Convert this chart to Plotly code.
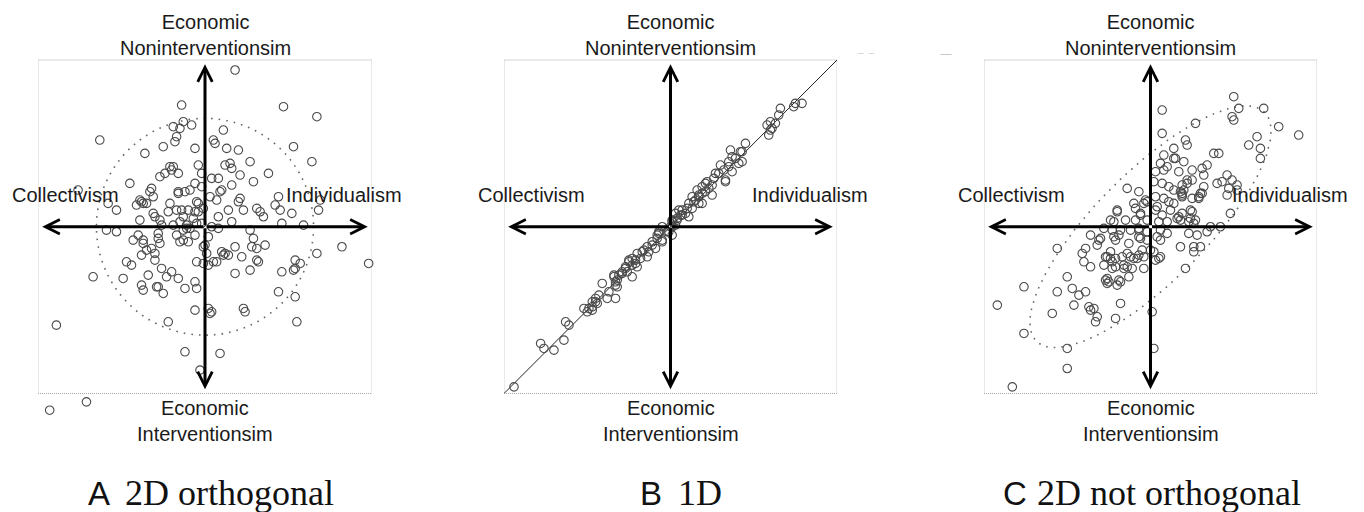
import math
import plotly.graph_objects as go

# ---------------- data (scores, box spans -100..100 on both axes) ----------------
a_x = [18, -14, 47, 67, -13, -8, -19, -15, 11, -63, 5, 6, -17, -18, -25, -6, 13, 20, 53, -36,
       27, 64, 12, 15, 16, -4, -21, -19, -20, -24, -16, -27, -2, 21, 38, 4, 8, -45, -6, 16,
       29, -76, -32, -33, -9, -12, -16, -16, -2, 10, 9, 44, 3, -31, -39, -41, -37, -35, -38, -58,
       -5, -4, 7, 21, 20, -21, 69, -17, -14, -22, -53, -10, -1, -6, -4, 14, 23, 31, 33, 35,
       42, 45, 52, 68, -31, -30, -39, -27, -13, -7, -15, 8, 16, -19, -11, -26, -5, -2, 46, 59,
       4, -59, -53, 8, -9, -13, -11, -28, -40, -17, 27, -43, -37, -37, -28, -27, -13, -15, -10, 2,
       0, -1, 29, 36, 28, 31, 18, -35, -32, 10, 12, 14, 11, 67, 82, 1, -38, -30, -30, 22,
       31, 32, -47, -44, -5, -1, 2, 5, 7, 54, 57, 54, 53, 98, -26, -20, 18, 27, 46, -67,
       -34, -49, -23, -16, -6, -38, -37, -29, -28, -25, -12, -5, 44, 54, -89, -6, 2, 3, 4, 23,
       24, -22, 55, -12, 9, -3, -71, -93, -6]
a_y = [94, 73, 72, 66, 63, 61, 60, 59, 58, 52, 52, 50, 54, 51, 48, 47, 47, 46, 48, 44,
       39, 39, 37, 38, 35, 37, 36, 36, 34, 32, 32, 30, 32, 31, 32, 29, 29, 26, 26, 25,
       27, 22, 23, 21, 22, 21, 21, 20, 24, 22, 21, 18, 18, 18, 16, 13, 14, 14, 15, 14,
       15, 14, 16, 17, 15, 14, 16, 10, 10, 9, 10, 10, 11, 9, 9, 10, 10, 11, 9, 6,
       13, 10, 8, 10, 8, 6, 4, 4, 6, 5, 3, 6, 3, 1, 1, 1, 2, 2, 2, 1,
       0, -2, -3, -1, -1, -2, -1, -4, -5, -5, -2, -8, -8, -10, -7, -10, -8, -9, -9, -6,
       -11, -12, -7, -11, -12, -13, -12, -14, -13, -15, -16, -17, -17, -16, -12, -16, -17, -16, -20, -18,
       -20, -21, -21, -23, -21, -22, -23, -21, -21, -20, -22, -25, -26, -22, -25, -27, -28, -26, -27, -30,
       -29, -31, -30, -31, -33, -35, -38, -36, -36, -40, -37, -37, -39, -42, -59, -50, -49, -52, -51, -49,
       -51, -57, -57, -75, -76, -86, -105, -110, -5]

b_x = [79, 75, 74, 66, 65, 63, 60, 61, 59, 60, 58, 45, 42, 43, 36, 37, 39, 43, 41, 35,
       30, 35, 37, 32, 29, 27, 33, 33, 26, 25, 21, 22, 23, 19, 21, 16, 17, 19, 25, 17,
       13, 14, 15, 17, 11, 19, 13, 10, 9, 7, 5, 6, 3, 7, 4, 4, 1, 11, 1, 3,
       1, 0, -1, -5, 1, -2, -7, -7, -8, -8, -5, -5, -11, -11, -9, -14, -13, -17, -16, -14,
       -18, -20, -21, -23, -25, -23, -20, -21, -25, -27, -27, -26, -29, -29, -31, -34, -34, -23, -33, -33,
       -32, -32, -41, -37, -43, -38, -33, -45, -45, -47, -47, -44, -47, -52, -50, -49, -63, -61, -64, -78,
       -76, -70, -94]
b_y = [74, 74, 72, 71, 67, 62, 63, 59, 55, 58, 61, 50, 45, 45, 46, 42, 41, 39, 38, 39,
       37, 36, 33, 34, 32, 32, 28, 27, 29, 25, 26, 27, 23, 24, 21, 22, 18, 20, 19, 19,
       18, 15, 16, 14, 14, 14, 11, 11, 8, 10, 10, 7, 8, 7, 5, 4, 3, 6, 4, 1,
       0, 0, -3, 0, -5, -3, -3, -4, -5, -7, -8, -9, -9, -11, -13, -12, -15, -15, -14, -18,
       -19, -16, -20, -19, -20, -23, -24, -22, -21, -24, -25, -27, -28, -27, -29, -29, -30, -30, -35, -33,
       -32, -36, -34, -39, -41, -43, -43, -45, -43, -48, -45, -46, -50, -49, -51, -49, -57, -59, -68, -70,
       -73, -74, -96]

c_x = [50, 7, 53, 68, 49, 50, 27, 77, 89, 7, 21, 22, 64, 59, 66, 66, 14, 38, 41, 8,
       14, 15, 20, 34, 6, 10, 3, 8, 17, 25, 31, 32, 46, 49, 2, 7, 11, 14, 19, 22,
       20, 19, 19, 18, 32, 31, 29, 40, 43, 47, 52, 46, -14, -7, 3, 8, 11, 14, 25, -2,
       -4, -20, -20, -10, -9, -6, -6, 4, 3, 12, 19, 25, 48, -24, -22, -15, -9, -2, 5, 10,
       16, 18, 23, 26, 36, 42, -28, -23, -18, -12, -7, -2, 6, 10, 23, 28, 34, -36, -30, -31,
       -22, -21, -13, -7, 4, 6, 18, 26, 30, 26, -56, -39, -41, -24, -26, -27, -14, -12, -10, -5,
       -4, 5, 3, -40, -36, -23, -28, -21, -23, -16, -14, -11, -16, -4, 21, -13, -50, -27, -26, -25,
       -20, -19, -18, -76, -56, -47, -39, -43, -92, -46, -37, -34, -36, -18, 1, -59, -32, -33, -21, -76,
       -50, 2, -50, -83, -32, -6, -2, 0, 2, 6, -8, -7, -17, -24, -21, -26, -19, -7, 24, 17,
       27, 24, 52, 30, 29, 25, 22, 19, -3, 7]
c_y = [78, 70, 71, 71, 66, 64, 62, 60, 55, 56, 52, 49, 54, 49, 47, 41, 47, 44, 44, 43,
       41, 41, 39, 37, 38, 36, 33, 34, 33, 34, 35, 31, 31, 28, 27, 26, 24, 22, 25, 26,
       22, 20, 18, 21, 24, 20, 18, 26, 27, 23, 22, 19, 23, 21, 18, 17, 15, 14, 17, 15,
       14, 10, 9, 14, 11, 8, 7, 12, 10, 10, 8, 9, 8, 4, 3, 4, 4, 4, 3, 3,
       5, 4, 3, 2, 0, 0, -1, -2, -2, -2, -2, -3, -2, -4, -4, -5, -3, -5, -7, -8,
       -6, -8, -10, -6, -6, -8, -12, -12, -12, -15, -13, -13, -16, -15, -18, -18, -16, -18, -19, -14,
       -18, -19, -20, -21, -24, -21, -23, -24, -25, -23, -24, -25, -25, -25, -25, -30, -30, -32, -31, -33,
       -35, -32, -33, -36, -39, -37, -39, -41, -47, -47, -48, -49, -50, -46, -51, -52, -54, -57, -55, -64,
       -73, -73, -85, -96, -11, -7, -8, -14, -15, -18, -19, -17, -18, -19, -19, -34, -5, -1, 10, 6,
       4, 5, 25, 20, 17, 28, 28, 19, 16, 7]

# axis labels
top_label = "Economic<br>Noninterventionsim"
bottom_label = "Economic<br>Interventionsim"
left_label = "Collectivism"
right_label = "Individualism"
captions = [("A", "2D orthogonal"), ("B", "1D"), ("C", "2D not orthogonal")]

# reference guides
circle_a_radius = 65                          # dotted circle, panel A
ellipse_c = dict(a=97, b=33, angle_deg=45)    # dotted ellipse, panel C
diag_b = dict(x=[-100, 100], y=[-100, 100])   # fitted line, panel B
arrow_len = 97.5

# ---------------- layout geometry ----------------
W, H = 1364, 512
box_px = [(38, 372), (504, 837), (984, 1317)]
box_y_px = (60, 393.5)
cap_px = [(112, 123), (664, 676), (1029, 1035)]
cap_y_px = 493
top_lab_px = 35
bot_lab_px = 421

# y axis spans the whole figure height; the box (-100..100) sits at box_y_px
unit = (box_y_px[1] - box_y_px[0]) / 200.0
y_center_px = (box_y_px[0] + box_y_px[1]) / 2
y_range = [-(H - y_center_px) / unit, y_center_px / unit]

fig = go.Figure()
xrefs = ["x", "x2", "x3"]
series = [(a_x, a_y), (b_x, b_y), (c_x, c_y)]

n = 180
th = math.radians(ellipse_c["angle_deg"])
ell_x, ell_y = [], []
for i in range(n + 1):
    t = 2 * math.pi * i / n
    u = ellipse_c["a"] * math.cos(t)
    v = ellipse_c["b"] * math.sin(t)
    ell_x.append(u * math.cos(th) - v * math.sin(th))
    ell_y.append(u * math.sin(th) + v * math.cos(th))

ann = []
shapes = []
for k, xr in enumerate(xrefs):
    xs, ys = series[k]
    cx_paper = (box_px[k][0] + box_px[k][1]) / 2 / W
    shapes.append(dict(type="rect", xref=xr, yref="y", x0=-100, x1=100, y0=-100, y1=100,
                       line=dict(color="#a8a8a8", width=1, dash="1px,1px"), layer="below"))
    if k == 0:
        shapes.append(dict(type="circle", xref=xr, yref="y",
                           x0=-circle_a_radius, x1=circle_a_radius,
                           y0=-circle_a_radius, y1=circle_a_radius,
                           line=dict(color="#666", width=1.6, dash="1.6px,6px"), layer="below"))
    if k == 1:
        fig.add_trace(go.Scatter(x=diag_b["x"], y=diag_b["y"], mode="lines",
                                 xaxis=xr, yaxis="y", line=dict(color="#222", width=1),
                                 hoverinfo="skip", showlegend=False))
    if k == 2:
        fig.add_trace(go.Scatter(x=ell_x, y=ell_y, mode="lines", xaxis=xr, yaxis="y",
                                 line=dict(color="#666", width=1.6, dash="1.6px,6px"),
                                 hoverinfo="skip", showlegend=False))
    fig.add_trace(go.Scatter(x=xs, y=ys, mode="markers", xaxis=xr, yaxis="y",
                             cliponaxis=False, showlegend=False, hoverinfo="skip",
                             marker=dict(symbol="circle-open", size=8.5,
                                         line=dict(color="#4a4a4a", width=1.1),
                                         color="#4a4a4a")))
    for (tx, ty) in [(arrow_len, 0), (-arrow_len, 0), (0, arrow_len), (0, -arrow_len)]:
        ann.append(dict(x=tx, y=ty, ax=0, ay=0, xref=xr, yref="y", axref=xr, ayref="y",
                        text="", showarrow=True, arrowhead=5, arrowsize=0.95,
                        arrowwidth=3, arrowcolor="#000", standoff=0))
    lab_font = dict(family="Liberation Sans, Arial, sans-serif", size=20, color="#1a1a1a")
    ann.append(dict(x=cx_paper, y=1 - top_lab_px / H, xref="paper", yref="paper",
                    text=top_label, showarrow=False,
                    font=lab_font, xanchor="center", yanchor="middle"))
    ann.append(dict(x=cx_paper, y=1 - bot_lab_px / H, xref="paper", yref="paper",
                    text=bottom_label, showarrow=False,
                    font=lab_font, xanchor="center", yanchor="middle"))
    ann.append(dict(x=-83.5, y=19, xref=xr, yref="y", text=left_label, showarrow=False,
                    font=lab_font, xanchor="center", yanchor="middle"))
    ann.append(dict(x=83.5, y=19, xref=xr, yref="y", text=right_label, showarrow=False,
                    font=lab_font, xanchor="center", yanchor="middle"))
    letter, desc = captions[k]
    ann.append(dict(x=cap_px[k][0] / W, y=1 - cap_y_px / H, xref="paper", yref="paper",
                    text=letter, showarrow=False, xanchor="right", yanchor="middle",
                    font=dict(family="Liberation Sans, Arial, sans-serif", size=33, color="#111")))
    ann.append(dict(x=cap_px[k][1] / W, y=1 - cap_y_px / H, xref="paper", yref="paper",
                    text=desc, showarrow=False, xanchor="left", yanchor="middle",
                    font=dict(family="Liberation Serif, Times New Roman, serif", size=36, color="#111")))

ann.append(dict(x=866 / W, y=1 - 43 / H, xref="paper", yref="paper", text="‒  ‒",
                showarrow=False, font=dict(size=10, color="#d0d0d0")))
ann.append(dict(x=954 / W, y=1 - 43 / H, xref="paper", yref="paper", text="—",
                showarrow=False, font=dict(size=12, color="#c8c8c8")))

layout_axes = {}
for k, xr in enumerate(xrefs):
    name = "xaxis" if k == 0 else f"xaxis{k + 1}"
    layout_axes[name] = dict(domain=[box_px[k][0] / W, box_px[k][1] / W], range=[-100, 100],
                             visible=False, anchor="y", fixedrange=True)
layout_axes["yaxis"] = dict(domain=[0, 1], range=y_range,
                            visible=False, anchor="x", fixedrange=True)

fig.update_layout(width=W, height=H, margin=dict(l=0, r=0, t=0, b=0), autosize=False,
                  paper_bgcolor="white", plot_bgcolor="rgba(0,0,0,0)", showlegend=False,
                  hovermode=False, annotations=ann, shapes=shapes, **layout_axes)

fig.write_html("out.html", config={"displayModeBar": False, "staticPlot": True},
               post_script="document.body.style.margin='0';document.body.style.padding='0';")
